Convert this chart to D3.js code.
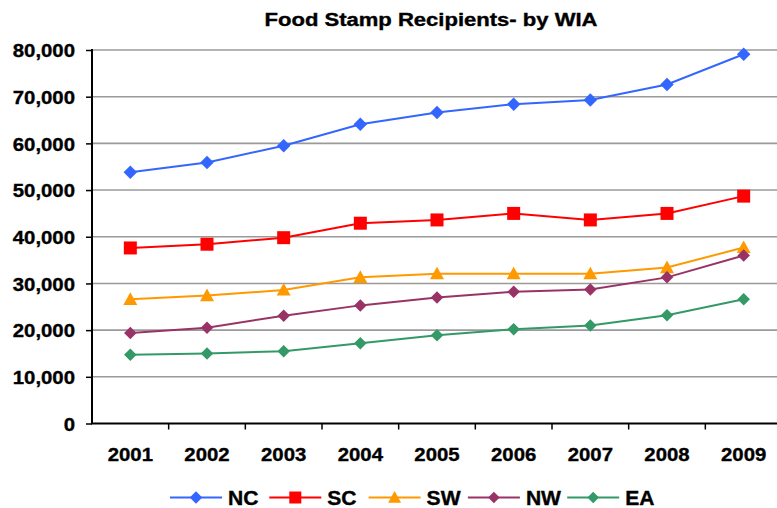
<!DOCTYPE html>
<html>
<head>
<meta charset="utf-8">
<script src="https://cdn.jsdelivr.net/npm/d3@7"></script>
<style>
  html, body { margin: 0; padding: 0; background: #fff; }
  svg { display: block; }
  text { font-family: "Liberation Sans", Arial, Helvetica, sans-serif; font-weight: bold; fill: #000; stroke: #000; stroke-width: 0.35px; }
</style>
</head>
<body>
<svg id="chart" width="777" height="508"></svg>
<script>
const years = ["2001","2002","2003","2004","2005","2006","2007","2008","2009"];
const seriesNames = ["NC","SC","SW","NW","EA"];
const NC = [53800, 55900, 59500, 64100, 66600, 68400, 69300, 72600, 79100];
const SC = [37600, 38400, 39800, 42900, 43600, 45000, 43600, 45000, 48700];
const SW = [26600, 27400, 28600, 31300, 32100, 32100, 32100, 33400, 37700];
const NW = [19400, 20500, 23100, 25300, 27000, 28200, 28700, 31300, 36000];
const EA = [14700, 15000, 15500, 17200, 18900, 20200, 21000, 23200, 26600];
const yTicks = [0, 10000, 20000, 30000, 40000, 50000, 60000, 70000, 80000];
const titleText = "Food Stamp Recipients- by WIA";

const colors = { NC: "#3366FF", SC: "#FF0000", SW: "#FF9900", NW: "#993366", EA: "#339966" };
const shapes = { NC: "diamond", SC: "square", SW: "triangle", NW: "diamond", EA: "diamond" };
const sizes  = { NC: 13.5, SC: 13, SW: 14, NW: 12.5, EA: 12.5 };
const data = { NC, SC, SW, NW, EA };

const svg = d3.select("#chart");
const W = 777, H = 508;
const pLeft = 92, pRight = 782, pTop = 50, pBottom = 423.5;

const x = d3.scaleBand().domain(years).range([pLeft, pRight]).padding(0);
const y = d3.scaleLinear().domain([0, 80000]).range([pBottom, pTop]);

// gridlines
svg.append("g").selectAll("line").data(yTicks.filter(d => d > 0)).join("line")
  .attr("x1", pLeft).attr("x2", W)
  .attr("y1", d => y(d)).attr("y2", d => y(d))
  .attr("stroke", "#9a9a9a").attr("stroke-width", 1.6);

// title
svg.append("text").attr("x", 431).attr("y", 26).attr("text-anchor", "middle")
  .attr("font-size", 17.5).attr("textLength", 333).attr("lengthAdjust", "spacingAndGlyphs")
  .text(titleText);

const fontStyle = sel => sel.style("font-family", "'Liberation Sans', Arial, sans-serif")
  .style("font-weight", "bold").style("stroke", "#000").style("stroke-width", "0.35px");

// y axis
const yAxis = svg.append("g").attr("transform", `translate(${pLeft},0)`)
  .call(d3.axisLeft(y).tickValues(yTicks).tickSize(6).tickFormat(d3.format(",")));
yAxis.select(".domain").attr("stroke", "#000").attr("stroke-width", 2).attr("d", `M0,${pTop - 1}V${pBottom}`);
yAxis.selectAll(".tick line").attr("stroke", "#000").attr("stroke-width", 1.5);
yAxis.selectAll(".tick text")
  .attr("x", 0).attr("dy", "0.36em").attr("font-size", 18.5)
  .attr("transform", "translate(-17,0) scale(1.1,1)")
  .call(fontStyle);

// x axis (labels at band centres)
const xAxis = svg.append("g").attr("transform", `translate(0,${pBottom})`)
  .call(d3.axisBottom(x).tickSize(0));
xAxis.select(".domain").remove();
xAxis.selectAll(".tick text")
  .attr("y", 0).attr("dy", 0).attr("font-size", 18.5)
  .attr("transform", "translate(0,37.5) scale(1.1,1)")
  .call(fontStyle);
// x axis line and boundary ticks
svg.append("line").attr("x1", pLeft - 1).attr("x2", W).attr("y1", pBottom).attr("y2", pBottom)
  .attr("stroke", "#000").attr("stroke-width", 2);
const boundaries = years.slice(1).map(d => x(d));
svg.append("g").selectAll("line").data(boundaries).join("line")
  .attr("x1", d => d).attr("x2", d => d).attr("y1", pBottom).attr("y2", pBottom + 6)
  .attr("stroke", "#000").attr("stroke-width", 1.5);

function markerPath(shape, s) {
  const h = s / 2;
  if (shape === "diamond") return `M0,${-h}L${h},0L0,${h}L${-h},0Z`;
  if (shape === "square") return `M${-h},${-h}H${h}V${h}H${-h}Z`;
  if (shape === "triangle") return `M0,${-h}L${h},${h * 0.8}L${-h},${h * 0.8}Z`;
}

const line = d3.line().x((d, i) => x(years[i]) + x.bandwidth() / 2).y(d => y(d));

seriesNames.forEach(name => {
  const g = svg.append("g");
  g.append("path").datum(data[name]).attr("d", line)
    .attr("fill", "none").attr("stroke", colors[name]).attr("stroke-width", 2);
  g.selectAll("path.m").data(data[name]).join("path").attr("class", "m")
    .attr("transform", (d, i) => `translate(${x(years[i]) + x.bandwidth() / 2},${y(d)})`)
    .attr("d", markerPath(shapes[name], sizes[name]))
    .attr("fill", colors[name]);
});

// legend
const legendX0 = 170, legendStep = 99.3, legendY = 497.5;
const lg = svg.append("g");
seriesNames.forEach((name, i) => {
  const lx = legendX0 + i * legendStep;
  lg.append("line").attr("x1", lx).attr("x2", lx + 52).attr("y1", legendY).attr("y2", legendY)
    .attr("stroke", colors[name]).attr("stroke-width", 2);
  lg.append("path").attr("transform", `translate(${lx + 26},${legendY})`)
    .attr("d", markerPath(shapes[name], sizes[name] - 1)).attr("fill", colors[name]);
  lg.append("text").attr("font-size", 19.5)
    .attr("transform", `translate(${lx + 58},${legendY + 7}) scale(1.08,1)`)
    .call(fontStyle)
    .text(name);
});
</script>
</body>
</html>
